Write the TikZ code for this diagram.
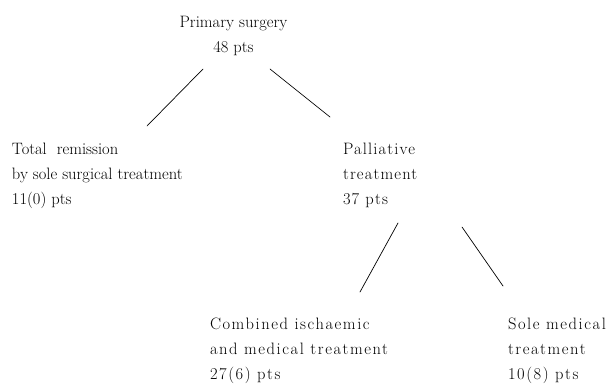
\documentclass[tikz,border=0pt]{standalone}
\usepackage{fontspec}
\newfontfamily\fnA{Latin Modern Roman}
\newfontfamily\fnB[LetterSpace=7]{Latin Modern Roman}
\newfontfamily\fnC[LetterSpace=9.5]{Latin Modern Roman}
\begin{document}
\begin{tikzpicture}[x=1pt,y=-1pt,
  txt/.style={inner sep=0pt,outer sep=0pt,font=\fnA\fontsize{16.5}{25}\selectfont},
  lbl/.style={txt,align=left,anchor=north west},
  ctr/.style={txt,align=center,anchor=north},
  spB/.style={font=\fnB\fontsize{16.5}{25}\selectfont},
  spC/.style={font=\fnC\fontsize{16.5}{25}\selectfont},
  conn/.style={line width=0.7pt,line cap=round}]
\useasboundingbox (0,0) rectangle (610,383);
\node[ctr] (root) at (233.5,16) {Primary surgery\\48 pts};
\node[lbl] (total) at (12,143) {Total\ \ remission\\by sole surgical treatment\\11(0) pts};
\node[lbl,spB] (pall) at (343,143) {Palliative\\treatment\\37 pts};
\node[lbl,spC] (comb) at (210,318) {Combined ischaemic\\and medical treatment\\27(6) pts};
\node[lbl,spC] (sole) at (508,318) {Sole medical\\treatment\\10(8) pts};
\coordinate (r1) at (203,69);
\coordinate (t1) at (147,126);
\coordinate (r2) at (270,69);
\coordinate (p1) at (330,117);
\coordinate (p2) at (398,223);
\coordinate (c1) at (360,292);
\coordinate (p3) at (462,227);
\coordinate (s1) at (503,286);
\draw[conn] (r1) -- (t1);
\draw[conn] (r2) -- (p1);
\draw[conn] (p2) -- (c1);
\draw[conn] (p3) -- (s1);
\end{tikzpicture}
\end{document}
